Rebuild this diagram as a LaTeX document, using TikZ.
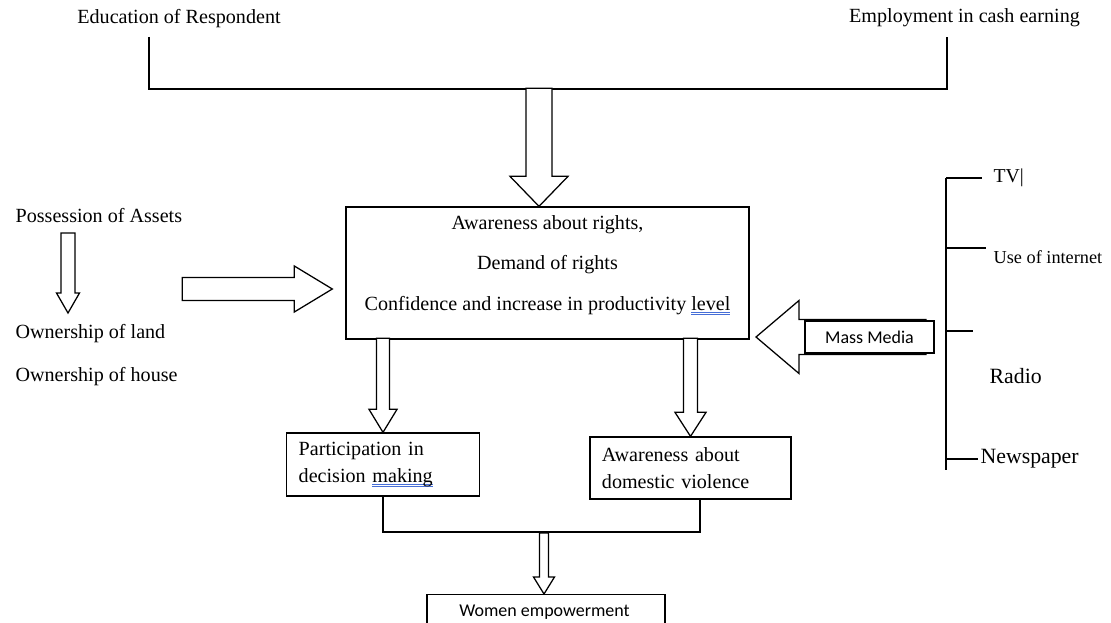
\documentclass[tikz,border=0pt]{standalone}
\usepackage{fontspec}
\setmainfont{Liberation Serif}
\newfontfamily\calibrifont{Carlito}
\usepackage{tikz}
\usetikzlibrary{calc}
\definecolor{spellblue}{RGB}{70,110,215}

\newcommand{\spellmark}[1]{\setbox0\hbox{#1}\rlap{\color{spellblue}\rule[-1.7pt]{\wd0}{0.45pt}\llap{\rule[-2.8pt]{\wd0}{0.45pt}}}\box0}
% tip, direction, length, shaft half width, head half width, head length
\newcommand{\fatarrow}[6]{\begin{scope}[shift={(#1)},rotate=#2]
        \draw[hollow] (0,0) -- (-#6,#5) -- (-#6,#4) -- (-#3,#4) -- (-#3,-#4) -- (-#6,-#4) -- (-#6,-#5) -- cycle;
    \end{scope}}

\begin{document}
\begin{tikzpicture}[x=0.025cm, y=-0.025cm, line width=0.9pt, lbl/.style={inner sep=0pt,font=\fontsize{14.3}{17}\selectfont}, box/.style={draw,line width=0.9pt,inner sep=0pt}, textbox/.style={draw,line width=0.9pt,align=left,inner xsep=0.3cm,inner ysep=0pt,font=\fontsize{14.3}{19.1}\selectfont}, sans/.style={inner sep=0pt,font=\calibrifont\fontsize{12.8}{15}\selectfont}, hollow/.style={draw,fill=white,line width=0.9pt,line join=miter}]
    \useasboundingbox (0,0) rectangle (1111,623);

    \node[lbl]              (edu)      at (179,19)    {Education of Respondent};
    \node[lbl]              (emp)      at (964.5,18)  {Employment in cash earning};
    \coordinate (eduFoot) at (149,37);
    \coordinate (empFoot) at (947,37);
    \coordinate (topJoin) at (539,89);
    \draw (eduFoot) |- (topJoin) -| (empFoot);

    \node[box,minimum width=10.075cm,minimum height=3.3cm] (main) at (547.5,273) {};
    \node[lbl,align=center,font=\fontsize{14.3}{29}\selectfont] (mainTxt) at (547.5,265)
        {Awareness about rights,\\Demand of rights\\Confidence and increase in productivity \spellmark{level}};
    \fatarrow{main.north -| topJoin}{-90}{118}{13}{29}{30}

    \node[lbl,anchor=west]  (assets)   at (15,216)    {Possession of Assets};
    \node[lbl,anchor=west]  (land)     at (15,334)    {Ownership of land};
    \node[lbl,anchor=west]  (house)    at (15,377)    {Ownership of house};
    \coordinate (assetsTip) at (68,313);
    \fatarrow{assetsTip}{-90}{80}{7}{11.5}{20}
    \coordinate (assetsIn) at ($(main.west)+(-13,16)$);
    \fatarrow{assetsIn}{0}{150}{11.5}{23}{38}

    \node[textbox,text width=4.2125cm,minimum height=1.575cm] (decision) at (383,464.5)  {Participation in\\decision \spellmark{making}};
    \node[textbox,text width=4.425cm,minimum height=1.55cm]   (violence) at (690.5,468)  {Awareness about\\domestic violence};
    \fatarrow{decision.north}{-90}{94}{6.5}{14}{23}
    \fatarrow{violence.north}{-90}{98}{7}{15.5}{24}

    \coordinate (lowJoin) at (544,532);
    \coordinate (violenceFoot) at ($(violence.south)+(9.5,0)$);
    \draw (decision.south) |- (lowJoin) -| (violenceFoot);
    \node[box,minimum width=5.95cm,minimum height=1.5cm,anchor=north] (women) at (546,594) {};
    \node[sans]             (womenTxt) at (544.5,612) {Women empowerment};
    \fatarrow{women.north -| lowJoin}{-90}{61}{4.5}{10.5}{17}

    \coordinate (mediaTip) at (756,337);
    \fatarrow{mediaTip}{180}{170}{17.5}{36.5}{43}
    \node[box,sans,fill=white,minimum width=3.225cm,minimum height=0.8cm] (media) at (869.5,337) {Mass Media};

    \coordinate (treeTop) at (946,178);
    \coordinate (treeBot) at (946,470);
    \coordinate (tvTick)    at (982,178);
    \coordinate (netTick)   at (986,248);
    \coordinate (radioTick) at (973,331);
    \coordinate (paperTick) at (978,459);
    \draw (treeTop) -- (treeBot);
    \foreach \tick in {tvTick,netTick,radioTick,paperTick}
        \draw (\tick -| treeTop) -- (\tick);
    \node[lbl,anchor=west,font=\fontsize{14}{17}\selectfont]   (tv)       at (993,178)  {TV|};
    \node[lbl,anchor=west,font=\fontsize{13}{15}\selectfont]   (internet) at (993,257)  {Use of internet};
    \node[lbl,anchor=west,font=\fontsize{15.5}{18}\selectfont] (radio)    at (989,376)  {Radio};
    \node[lbl,anchor=west,font=\fontsize{15.5}{18}\selectfont] (paper)    at (980,459)  {Newspaper};
\end{tikzpicture}
\end{document}
